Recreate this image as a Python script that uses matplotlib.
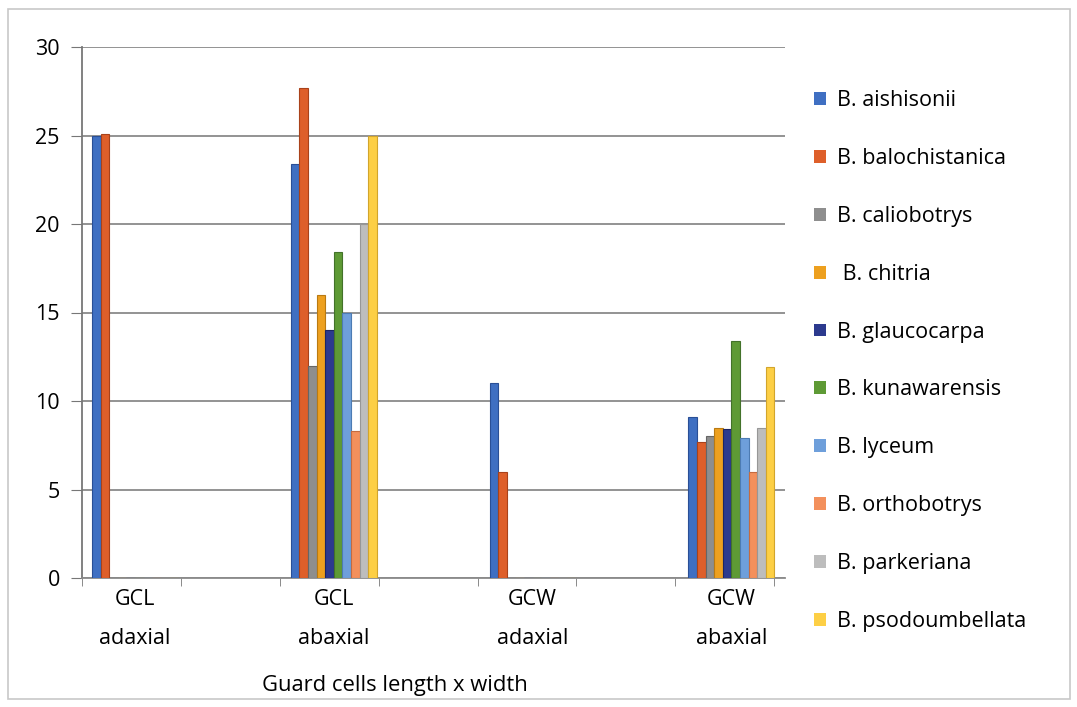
import numpy as np
import matplotlib.pyplot as plt
from matplotlib.patches import Rectangle, Patch

# Datos
categorias = ["GCL\nadaxial", "GCL\nabaxial", "GCW\nadaxial", "GCW\nabaxial"]
especies = ["B. aishisonii", "B. balochistanica", "B. caliobotrys", " B. chitria",
            "B. glaucocarpa", "B. kunawarensis", "B. lyceum", "B. orthobotrys",
            "B. parkeriana", "B. psodoumbellata"]

aishisonii = [25, 23.4, 11, 9.1]
balochistanica = [25.1, 27.7, 6, 7.7]
caliobotrys = [0, 12, 0, 8.0]
chitria = [0, 16, 0, 8.5]
glaucocarpa = [0, 14, 0, 8.4]
kunawarensis = [0, 18.4, 0, 13.4]
lyceum = [0, 15, 0, 7.9]
orthobotrys = [0, 8.3, 0, 6.0]
parkeriana = [0, 20, 0, 8.5]
psodoumbellata = [0, 25, 0, 11.9]

valores = [aishisonii, balochistanica, caliobotrys, chitria, glaucocarpa,
           kunawarensis, lyceum, orthobotrys, parkeriana, psodoumbellata]

colores = ["#3F6FC2", "#DE5F2A", "#8E8E8E", "#EDA01F", "#2C3A8E",
           "#5E9A35", "#6E9FDB", "#F3905C", "#BDBDBD", "#FDCF45"]
bordes = ["#2A4F96", "#A9421A", "#666666", "#B97A12", "#1C2663",
          "#43722A", "#4C7BB3", "#C56B40", "#979797", "#D2A52C"]

plt.rcParams['font.family'] = ['Open Sans', 'DejaVu Sans']

fig = plt.figure(figsize=(10.77, 7.07), dpi=100)
ax = fig.add_axes([82/1077, 1-578/707, (785-82)/1077, (578-47)/707])

x = np.arange(len(categorias))
ancho = 0.0433
n = len(valores)
for i in range(n):
    ax.bar(x + (i - (n-1)/2)*ancho, valores[i], width=ancho, color=colores[i],
           edgecolor=bordes[i], linewidth=0.8, zorder=3)

ax.set_xlim(-0.267, 3.27)
ax.set_ylim(0, 30)
ax.set_yticks(np.arange(0, 31, 5))
ax.yaxis.grid(True, color="#8a8a8a", linewidth=1.3, zorder=0)
ax.set_axisbelow(True)

ax.set_xticks(x)
ax.set_xticklabels(categorias, fontsize=15.5, linespacing=2.1)
ax.tick_params(axis="x", length=0, pad=8)
ax.set_xticks(-0.267 + 0.4975*np.arange(8), minor=True)
ax.tick_params(axis="x", which="minor", length=6, color="#777777")
ax.tick_params(axis="y", labelsize=15.5, length=8, color="#777777", pad=8)

for s in ["top", "right"]:
    ax.spines[s].set_visible(False)
ax.spines["left"].set_color("#777777")
ax.spines["bottom"].set_color("#8a8a8a")
ax.spines["left"].set_linewidth(1.3)
ax.spines["bottom"].set_linewidth(1.3)

fig.text(395/1077, 1-685/707, "Guard cells length x width", ha="center",
         va="center", fontsize=15.8)

handles = [Patch(facecolor=colores[i], edgecolor="none") for i in range(n)]
fig.legend(handles, especies, loc="upper left", bbox_to_anchor=(795/1077, 1-71/707),
           frameon=False, fontsize=15.5, handlelength=0.55, handleheight=0.55,
           handletextpad=0.5, labelspacing=1.71)

# borde exterior
fig.patches.append(Rectangle((8/1077, 8/707), 1062/1077, 690/707, transform=fig.transFigure,
                             fill=False, edgecolor="#c8c8c8", linewidth=1.2))

plt.savefig("out.png", dpi=100)
